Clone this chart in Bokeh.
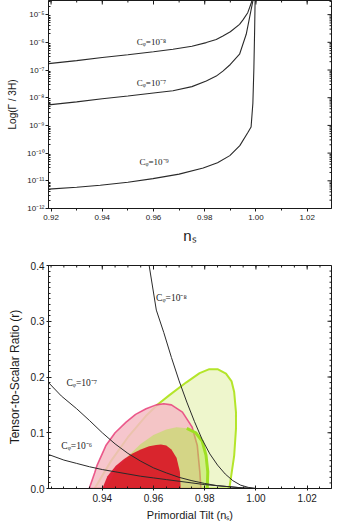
import numpy as np
from bokeh.plotting import figure
from bokeh.layouts import column
from bokeh.models import FixedTicker, PrintfTickFormatter, Label
from bokeh.embed import file_html
from bokeh.resources import INLINE

# ---------------- top panel data: log10(Gamma/3H) vs n_s ----------------
top_ns_c8 = [0.919, 0.930, 0.940, 0.950, 0.960, 0.9676, 0.975, 0.9806, 0.9845, 0.9871, 0.990, 0.9936, 0.995, 0.9968, 0.9981, 0.9990]
top_lg_c8 = [-6.77, -6.66, -6.55, -6.45, -6.34, -6.25, -6.14, -6.01, -5.90, -5.77, -5.62, -5.35, -5.18, -4.93, -4.60, -4.30]

top_ns_c7 = [0.919, 0.930, 0.940, 0.950, 0.960, 0.9676, 0.975, 0.9806, 0.9845, 0.9871, 0.990, 0.9936, 0.9962, 0.9975, 0.9988, 0.9994]
top_lg_c7 = [-8.26, -8.15, -8.04, -7.94, -7.83, -7.75, -7.60, -7.40, -7.22, -7.04, -6.80, -6.43, -5.71, -5.11, -4.50, -4.20]

top_ns_c9 = [0.919, 0.930, 0.9392, 0.950, 0.9598, 0.970, 0.9794, 0.985, 0.9898, 0.9937, 0.9969, 0.9981, 0.9988, 0.9992, 0.9995, 0.9997]
top_lg_c9 = [-11.30, -11.23, -11.16, -11.05, -10.92, -10.76, -10.54, -10.35, -10.09, -9.73, -9.25, -9.06, -8.20, -6.92, -5.50, -4.30]

top_x_ticks = [0.92, 0.94, 0.96, 0.98, 1.00, 1.02]
top_y_ticks = [-12, -11, -10, -9, -8, -7, -6, -5]
top_y_labels = ["10⁻¹²", "10⁻¹¹", "10⁻¹⁰", "10⁻⁹", "10⁻⁸", "10⁻⁷", "10⁻⁶", "10⁻⁵"]

# ---------------- bottom panel data: r vs n_s ----------------
bot_ns_c8 = [0.9583, 0.9611, 0.9640, 0.9670, 0.9700, 0.9730, 0.9760, 0.9790, 0.9820, 0.9850, 0.9880, 0.9910, 0.9940, 0.9970, 1.0000]
bot_r_c8 = [0.400, 0.320, 0.280, 0.235, 0.193, 0.155, 0.120, 0.088, 0.062, 0.042, 0.026, 0.014, 0.006, 0.002, 0.000]

bot_ns_c7 = [0.919, 0.924, 0.930, 0.935, 0.940, 0.945, 0.950, 0.955, 0.960, 0.965, 0.970, 0.975, 0.980, 0.985, 0.990, 0.995, 1.000]
bot_r_c7 = [0.190, 0.166, 0.143, 0.122, 0.100, 0.080, 0.063, 0.049, 0.037, 0.028, 0.020, 0.014, 0.009, 0.005, 0.003, 0.001, 0.000]

bot_ns_c6 = [0.919, 0.925, 0.930, 0.935, 0.940, 0.945, 0.950, 0.955, 0.960, 0.965, 0.970, 0.975, 0.980, 0.985, 0.990, 0.995, 1.000]
bot_r_c6 = [0.061, 0.051, 0.045, 0.039, 0.034, 0.030, 0.026, 0.022, 0.019, 0.016, 0.013, 0.010, 0.007, 0.005, 0.003, 0.001, 0.000]

# confidence contours (n_s, r)
green_outer_ns = [0.9370, 0.9435, 0.9500, 0.9570, 0.9620, 0.9661, 0.9727, 0.9780, 0.9818, 0.9850, 0.9883, 0.9905, 0.9915, 0.9922, 0.9922, 0.9915, 0.9902, 0.9896]
green_outer_r = [0.000, 0.050, 0.092, 0.130, 0.152, 0.167, 0.190, 0.207, 0.214, 0.214, 0.206, 0.192, 0.173, 0.137, 0.107, 0.059, 0.018, 0.000]

green_inner_ns = [0.9415, 0.9450, 0.9500, 0.9550, 0.9600, 0.9650, 0.9690, 0.9730, 0.9765, 0.9790, 0.9805, 0.9812, 0.9810]
green_inner_r = [0.000, 0.030, 0.058, 0.080, 0.096, 0.106, 0.110, 0.108, 0.100, 0.085, 0.060, 0.030, 0.000]

pink_outer_ns = [0.9349, 0.9370, 0.9380, 0.9414, 0.9450, 0.9493, 0.9530, 0.9571, 0.9610, 0.9640, 0.9670, 0.9713, 0.9751, 0.9771, 0.9781, 0.9785]
pink_outer_r = [0.000, 0.028, 0.042, 0.077, 0.100, 0.119, 0.133, 0.143, 0.150, 0.152, 0.150, 0.137, 0.110, 0.077, 0.029, 0.000]

red_inner_ns = [0.9400, 0.9420, 0.9453, 0.9485, 0.9518, 0.9550, 0.9583, 0.9610, 0.9629, 0.9650, 0.9670, 0.9690, 0.9703, 0.9706]
red_inner_r = [0.000, 0.022, 0.041, 0.053, 0.063, 0.070, 0.076, 0.078, 0.079, 0.077, 0.070, 0.055, 0.030, 0.000]

bot_x_ticks = [0.94, 0.96, 0.98, 1.00, 1.02]
bot_y_ticks = [0.0, 0.1, 0.2, 0.3, 0.4]

SANS = "Liberation Sans"
SERIF = "Liberation Serif"
INK = "#1a1a1a"


def style_axis(ax, tick_in, tick_out, minor_in, minor_out, font):
    ax.axis_line_color = INK
    ax.axis_line_width = 1
    ax.major_tick_line_color = INK
    ax.minor_tick_line_color = INK
    ax.major_tick_in = tick_in
    ax.major_tick_out = tick_out
    ax.minor_tick_in = minor_in
    ax.minor_tick_out = minor_out
    ax.major_label_text_font = SANS
    ax.major_label_text_color = INK
    ax.major_label_text_font_size = font
    ax.axis_label_text_font = SANS
    ax.axis_label_text_font_style = "normal"
    ax.axis_label_text_color = INK


def mirror_ticks(p, xr, yr, xt_major, xt_minor, yt_major, yt_minor):
    # inward tick marks on the top and right frame edges
    p.ray(x=[xr[1]] * len(yt_major), y=yt_major, length=4, length_units="screen",
          angle=np.pi, line_color=INK, line_width=1)
    p.ray(x=[xr[1]] * len(yt_minor), y=yt_minor, length=2, length_units="screen",
          angle=np.pi, line_color=INK, line_width=1)
    p.ray(x=xt_major, y=[yr[1]] * len(xt_major), length=4, length_units="screen",
          angle=-np.pi / 2, line_color=INK, line_width=1)
    p.ray(x=xt_minor, y=[yr[1]] * len(xt_minor), length=2, length_units="screen",
          angle=-np.pi / 2, line_color=INK, line_width=1)


# ============ TOP PANEL ============
xr1 = (0.919, 1.0295)
yr1 = (-12, -4.49)
p1 = figure(width=346, height=248, x_range=xr1, y_range=yr1,
            output_backend="svg", toolbar_location=None,
            min_border_left=48, min_border_right=14, min_border_top=0, min_border_bottom=40)
p1.grid.visible = False
p1.outline_line_color = INK
p1.outline_line_width = 1

x_minor_top = [round(0.92 + 0.01 * i, 3) for i in range(11)]
y_minor_top = [d + np.log10(k) for d in range(-12, -4) for k in range(2, 10) if d + np.log10(k) < yr1[1]]

p1.xaxis.ticker = FixedTicker(ticks=top_x_ticks, minor_ticks=x_minor_top)
p1.xaxis.formatter = PrintfTickFormatter(format="%.2f")
p1.xaxis.axis_label = "nₛ"
p1.xaxis.axis_label_text_font_size = "15px"
p1.xaxis.major_label_standoff = 3
p1.xaxis.axis_label_standoff = 4
style_axis(p1.xaxis[0], 0, 3, 0, 2, "8px")

p1.yaxis.ticker = FixedTicker(ticks=top_y_ticks, minor_ticks=y_minor_top)
p1.yaxis.major_label_overrides = {t: lab for t, lab in zip(top_y_ticks, top_y_labels)}
p1.yaxis.axis_label = "Log(Γ / 3H)"
p1.yaxis.axis_label_text_font_size = "10px"
p1.yaxis.major_label_standoff = 1
p1.yaxis.axis_label_standoff = 6
style_axis(p1.yaxis[0], 0, 3, 2, 0, "8px")

mirror_ticks(p1, xr1, yr1, top_x_ticks, x_minor_top, top_y_ticks, y_minor_top)

for xs, ys in [(top_ns_c8, top_lg_c8), (top_ns_c7, top_lg_c7), (top_ns_c9, top_lg_c9)]:
    p1.line(xs, ys, line_color="#2a2a2a", line_width=1.1)

for (lx, ly, txt) in [(0.9535, -6.0, "Cᵩ=10⁻⁸"), (0.9535, -7.47, "Cᵩ=10⁻⁷"), (0.9545, -10.32, "Cᵩ=10⁻⁹")]:
    p1.add_layout(Label(x=lx, y=ly, text=txt, text_font=SERIF, text_font_size="9px",
                        text_color=INK, text_baseline="middle", text_align="left"))

# ============ BOTTOM PANEL ============
xr2 = (0.919, 1.0295)
yr2 = (0.0, 0.4)
p2 = figure(width=346, height=279, x_range=xr2, y_range=yr2,
            output_backend="svg", toolbar_location=None,
            min_border_left=47, min_border_right=15, min_border_top=17, min_border_bottom=39)
p2.grid.visible = False
p2.outline_line_color = INK
p2.outline_line_width = 1

x_minor_bot = [round(0.92 + 0.005 * i, 3) for i in range(22)]
y_minor_bot = [round(0.01 * i, 2) for i in range(41)]

p2.xaxis.ticker = FixedTicker(ticks=bot_x_ticks, minor_ticks=x_minor_bot)
p2.xaxis.formatter = PrintfTickFormatter(format="%.2f")
p2.xaxis.axis_label = "Primordial Tilt (nₛ)"
p2.xaxis.axis_label_text_font_size = "11px"
p2.xaxis.major_label_standoff = 3
p2.xaxis.axis_label_standoff = 4
style_axis(p2.xaxis[0], 3, 2, 2, 0, "10px")

p2.yaxis.ticker = FixedTicker(ticks=bot_y_ticks, minor_ticks=y_minor_bot)
p2.yaxis.formatter = PrintfTickFormatter(format="%.1f")
p2.yaxis.axis_label = "Tensor-to-Scalar Ratio (r)"
p2.yaxis.axis_label_text_font_size = "12px"
p2.yaxis.major_label_standoff = 2
p2.yaxis.axis_label_standoff = 6
style_axis(p2.yaxis[0], 3, 2, 2, 0, "10px")

mirror_ticks(p2, xr2, yr2, bot_x_ticks, x_minor_bot, bot_y_ticks, y_minor_bot)

# contours
p2.patch(green_outer_ns, green_outer_r, fill_color="#eef6cc", line_color="#b4e52a", line_width=2)
p2.patch(pink_outer_ns, pink_outer_r, fill_color="#f4bcc4", fill_alpha=0.85,
         line_color="#e8407a", line_alpha=0.85, line_width=1.6)
p2.patch(green_inner_ns, green_inner_r, fill_color="#b4e646", fill_alpha=0.5, line_color=None)
p2.line(green_inner_ns[-6:], green_inner_r[-6:], line_color="#9fe022", line_width=3)
p2.patch(red_inner_ns, red_inner_r, fill_color="#d9061d", fill_alpha=0.85, line_color=None)

for xs, ys in [(bot_ns_c8, bot_r_c8), (bot_ns_c7, bot_r_c7), (bot_ns_c6, bot_r_c6)]:
    p2.line(xs, ys, line_color="#2a2a2a", line_width=1.0)

for (lx, ly, txt) in [(0.9610, 0.342, "Cᵩ=10⁻⁸"), (0.9260, 0.190, "Cᵩ=10⁻⁷"), (0.9240, 0.077, "Cᵩ=10⁻⁶")]:
    p2.add_layout(Label(x=lx, y=ly, text=txt, text_font=SERIF, text_font_size="9.5px",
                        text_color=INK, text_baseline="middle", text_align="left"))

layout = column(p1, p2, spacing=0)
open("out.html", "w").write(file_html(layout, INLINE))
